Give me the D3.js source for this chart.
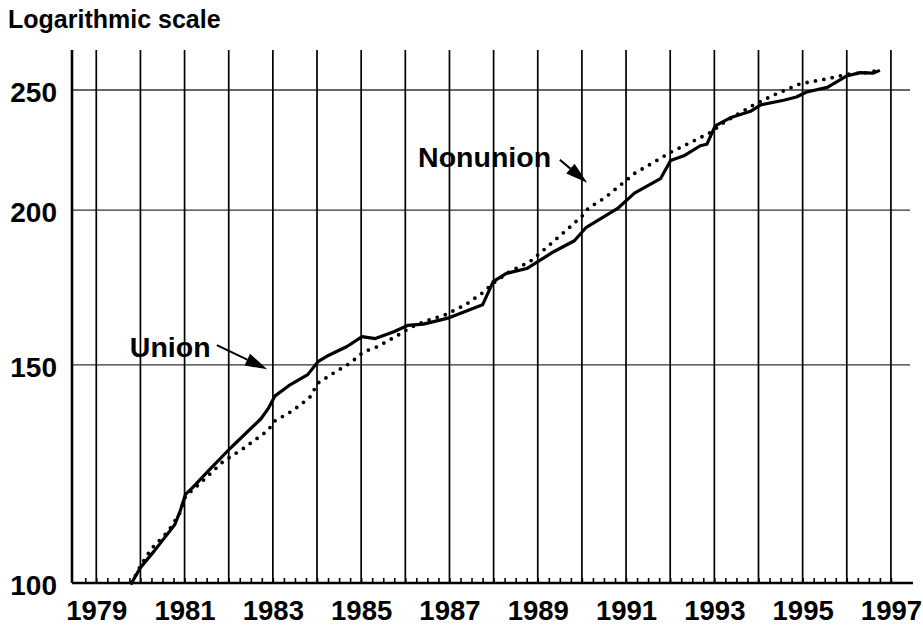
<!DOCTYPE html>
<html>
<head>
<meta charset="utf-8">
<script src="https://cdn.jsdelivr.net/npm/d3@7"></script>
<style>
  body { margin: 0; background: #fff; }
  svg text { font-family: Arial, "Liberation Sans", Helvetica, sans-serif; font-weight: bold; fill: #000; }
</style>
</head>
<body>
<div id="chart"></div>
<script>
var svgWidth = 923;
var svgHeight = 626;

// series (year, index value)
var unionYears = [1979.8, 1980.0, 1980.31, 1980.78, 1980.9, 1981.02, 1981.17, 1981.56, 1982.03, 1982.73,
  1982.89, 1983.05, 1983.36, 1983.79, 1984.03, 1984.22, 1984.68, 1985.02, 1985.32, 1985.74,
  1986.05, 1986.41, 1986.99, 1987.75, 1987.99, 1988.29, 1988.75, 1989.36, 1989.83, 1990.1,
  1990.81, 1991.19, 1991.78, 1992.01, 1992.31, 1992.68, 1992.83, 1993.02, 1993.36, 1993.82,
  1994.05, 1994.57, 1994.86, 1995.09, 1995.56, 1996.0, 1996.3, 1996.6, 1996.75];
var unionValues = [100, 102.9, 106.1, 111.5, 114.3, 117.9, 119.3, 123.4, 128.4, 135.7,
  138.2, 141.6, 144.3, 147.3, 151.0, 152.4, 155.2, 158.1, 157.5, 159.5,
  161.4, 161.8, 163.7, 167.7, 175.1, 177.8, 179.4, 185.1, 188.9, 193.7,
  200.6, 206.4, 212.0, 219.3, 221.2, 225.4, 226.0, 233.9, 237.4, 240.3,
  243.2, 245.3, 246.8, 249.1, 251.2, 256.6, 258.2, 258.0, 259.3];

var nonunionYears = [1979.8, 1980.0, 1980.24, 1980.63, 1980.9, 1981.02, 1981.4, 1981.87, 1982.33, 1982.88,
  1983.05, 1983.44, 1983.83, 1984.02, 1984.37, 1984.75, 1985.06, 1985.36, 1985.82, 1986.12,
  1986.48, 1986.92, 1987.37, 1987.75, 1987.99, 1988.37, 1988.82, 1989.21, 1989.68, 1990.03,
  1990.15, 1990.52, 1991.2, 1991.64, 1992.01, 1992.54, 1992.91, 1993.21, 1993.89, 1994.35,
  1994.94, 1995.54, 1996.03, 1996.47, 1996.71];
var nonunionValues = [100, 103.2, 106.5, 110.1, 114.0, 117.5, 120.8, 125.3, 128.4, 132.7,
  135.2, 137.7, 141.1, 145.0, 147.7, 150.5, 153.7, 155.1, 158.4, 160.8,
  162.8, 164.7, 167.8, 171.5, 174.6, 178.4, 181.7, 186.7, 193.1, 198.2,
  200.8, 204.6, 214.2, 218.7, 222.7, 227.5, 231.0, 235.3, 243.2, 247.7,
  252.9, 255.2, 257.5, 258.2, 259.3];

var valueTicks = [100, 150, 200, 250];
var yearLabels = [1979, 1981, 1983, 1985, 1987, 1989, 1991, 1993, 1995, 1997];
var gridYears = [1979, 1980, 1981, 1982, 1983, 1984, 1985, 1986, 1987, 1988,
  1989, 1990, 1991, 1992, 1993, 1994, 1995, 1996, 1997];

var svg = d3.select("#chart")
  .append("svg")
  .attr("width", svgWidth)
  .attr("height", svgHeight);

var x = d3.scaleLinear().domain([1978.45, 1997.5]).range([72, 913]);
var y = d3.scaleLog().domain([100, 269.3]).range([583, 50]);

// title
svg.append("text")
  .attr("x", 8)
  .attr("y", 28)
  .style("font-size", "25px")
  .text("Logarithmic scale");

// horizontal gridlines
svg.append("g").selectAll("line")
  .data(valueTicks.slice(1))
  .enter()
  .append("line")
  .attr("x1", x.range()[0])
  .attr("x2", 910)
  .attr("y1", d => y(d))
  .attr("y2", d => y(d))
  .attr("stroke", "#333")
  .attr("stroke-width", 1.3);

// vertical gridlines, one per year
svg.append("g").selectAll("line")
  .data(gridYears)
  .enter()
  .append("line")
  .attr("x1", d => x(d))
  .attr("x2", d => x(d))
  .attr("y1", y.range()[1])
  .attr("y2", y.range()[0])
  .attr("stroke", "#000")
  .attr("stroke-width", 1.7);

// quarterly ticks on the bottom axis
var quarters = d3.range(1978.75, 1997.01, 0.25);
var tickAxis = d3.axisBottom(x).tickValues(quarters).tickSize(-5).tickFormat("");
var xTickG = svg.append("g")
  .attr("transform", `translate(0, ${y(100)})`)
  .call(tickAxis);
xTickG.select(".domain").remove();
xTickG.selectAll("line").attr("stroke", "#000").attr("stroke-width", 1.6);

// year labels
var labelAxis = d3.axisBottom(x).tickValues(yearLabels).tickSize(0).tickPadding(17).tickFormat(d3.format("d"));
var xLabelG = svg.append("g")
  .attr("transform", `translate(0, ${y(100)})`)
  .call(labelAxis);
xLabelG.select(".domain").remove();
xLabelG.selectAll("text")
  .attr("font-family", null)
  .style("font-size", "27.5px");

// value labels
svg.append("g").selectAll("text")
  .data(valueTicks)
  .enter()
  .append("text")
  .attr("x", 57)
  .attr("y", d => y(d))
  .attr("dy", "0.42em")
  .attr("text-anchor", "end")
  .style("font-size", "28px")
  .text(d => d);

// axis lines
svg.append("line")
  .attr("x1", x.range()[0]).attr("x2", x.range()[1])
  .attr("y1", y(100)).attr("y2", y(100))
  .attr("stroke", "#000").attr("stroke-width", 2.6);
svg.append("line")
  .attr("x1", x.range()[0]).attr("x2", x.range()[0])
  .attr("y1", y.range()[1]).attr("y2", y(100))
  .attr("stroke", "#000").attr("stroke-width", 2.6);

var line = d3.line()
  .x(d => x(d[0]))
  .y(d => y(d[1]));

// nonunion: dotted
svg.append("path")
  .datum(d3.zip(nonunionYears, nonunionValues))
  .attr("d", line)
  .attr("fill", "none")
  .attr("stroke", "#000")
  .attr("stroke-width", 3.8)
  .attr("stroke-linecap", "round")
  .attr("stroke-dasharray", "0 8.5");

// union: solid
svg.append("path")
  .datum(d3.zip(unionYears, unionValues))
  .attr("d", line)
  .attr("fill", "none")
  .attr("stroke", "#000")
  .attr("stroke-width", 3.2)
  .attr("stroke-linejoin", "round");

// labels with arrows (placed in data space)
var notes = [
  { label: "Union", tx: 1979.76, tv: 152.2, fromX: 1981.73, fromV: 155.6, toX: 1982.87, toV: 148.8 },
  { label: "Nonunion", tx: 1986.29, tv: 216.8, fromX: 1989.50, fromV: 219.6, toX: 1990.12, toV: 210.4 }
];

notes.forEach(function(n) {
  svg.append("text")
    .attr("x", x(n.tx))
    .attr("y", y(n.tv))
    .style("font-size", "28.5px")
    .text(n.label);

  var x1 = x(n.fromX), y1 = y(n.fromV), x2 = x(n.toX), y2 = y(n.toV);
  var ang = Math.atan2(y2 - y1, x2 - x1);
  var len = 22, half = 6.5;
  var bx = x2 - len * Math.cos(ang), by = y2 - len * Math.sin(ang);

  svg.append("line")
    .attr("x1", x1).attr("y1", y1)
    .attr("x2", bx).attr("y2", by)
    .attr("stroke", "#000")
    .attr("stroke-width", 2);

  svg.append("path")
    .attr("d", "M" + x2 + "," + y2 +
      "L" + (bx + half * Math.sin(ang)) + "," + (by - half * Math.cos(ang)) +
      "L" + (bx - half * Math.sin(ang)) + "," + (by + half * Math.cos(ang)) + "Z")
    .attr("fill", "#000");
});
</script>
</body>
</html>
